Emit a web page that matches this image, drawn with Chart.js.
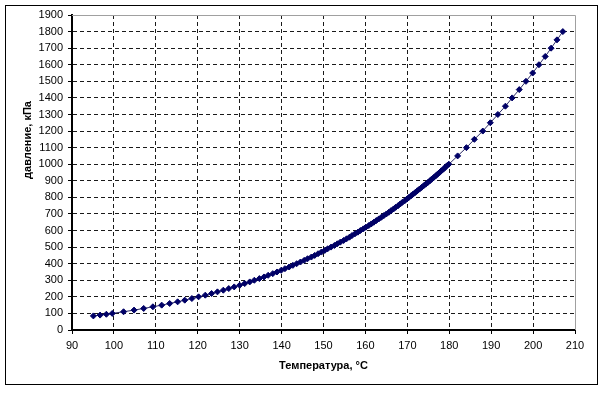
<!DOCTYPE html>
<html>
<head>
<meta charset="utf-8">
<script src="https://cdn.jsdelivr.net/npm/chart.js@4/dist/chart.umd.min.js"></script>
<style>
  html, body { margin: 0; padding: 0; background: #fff; }
  canvas { display: block; }
</style>
</head>
<body>
<canvas id="pressureChart" width="605" height="394"></canvas>
<script>
  // давление насыщения, кПа
  let pressure = [
    85, 90, 95, 100, 110, 120, 130, 140, 150, 160, 170, 180, 190,
    200, 210, 220, 230, 240, 250, 260, 270, 280, 290,
    300, 310, 320, 330, 340, 350, 360, 370, 380, 390,
    400, 410, 420, 430, 440, 450, 460, 470, 480, 490,
    500, 510, 520, 530, 540, 550, 560, 570, 580, 590,
    600, 610, 620, 630, 640, 650, 660, 670, 680, 690,
    700, 710, 720, 730, 740, 750, 760, 770, 780, 790,
    800, 810, 820, 830, 840, 850, 860, 870, 880, 890,
    900, 910, 920, 930, 940, 950, 960, 970, 980, 990,
    1000, 1050, 1100, 1150, 1200, 1250, 1300, 1350, 1400,
    1450, 1500, 1550, 1600, 1650, 1700, 1750, 1800
  ];

  // температура, °C
  let temperature = [
    95.1, 96.7, 98.2, 99.6, 102.3, 104.8, 107.1, 109.3, 111.4, 113.3, 115.2, 116.9, 118.6,
    120.2, 121.8, 123.3, 124.7, 126.1, 127.4, 128.7, 130.0, 131.2, 132.4,
    133.5, 134.7, 135.8, 136.8, 137.9, 138.9, 139.9, 140.8, 141.8, 142.7,
    143.6, 144.5, 145.4, 146.2, 147.1, 147.9, 148.7, 149.5, 150.3, 151.0,
    151.8, 152.6, 153.3, 154.0, 154.8, 155.5, 156.2, 156.8, 157.5, 158.2,
    158.8, 159.5, 160.1, 160.8, 161.4, 162.0, 162.6, 163.2, 163.8, 164.4,
    165.0, 165.6, 166.1, 166.7, 167.2, 167.8, 168.3, 168.8, 169.4, 169.9,
    170.4, 170.9, 171.4, 171.9, 172.4, 172.9, 173.4, 173.9, 174.4, 174.9,
    175.4, 175.8, 176.3, 176.8, 177.2, 177.7, 178.1, 178.6, 179.0, 179.4,
    179.9, 182.0, 184.1, 186.0, 188.0, 189.8, 191.6, 193.4, 195.0,
    196.7, 198.3, 199.9, 201.4, 202.9, 204.3, 205.7, 207.1
  ];

  let xTicks = { min: 90, max: 210, step: 10 };
  let yTicks = { min: 0, max: 1900, step: 100 };

  let xTitle = 'Температура, °C';
  let yTitle = 'давление, кПа';

  const FONT = "'Liberation Sans', Arial, sans-serif";

  // рамка, серая граница области построения и подписи осей
  const framePlugin = {
    id: 'framePlugin',
    beforeDraw(chart) {
      const c = chart.ctx;
      c.save();
      c.fillStyle = '#fff';
      c.fillRect(0, 0, chart.width, chart.height);
      c.restore();
    },
    beforeDatasetsDraw(chart) {
      const c = chart.ctx, a = chart.chartArea;
      c.save();
      c.strokeStyle = '#a0a0a0';
      c.lineWidth = 1;
      c.beginPath();
      c.moveTo(a.left, Math.round(a.top) + 0.5);
      c.lineTo(Math.round(a.right) + 0.5, Math.round(a.top) + 0.5);
      c.lineTo(Math.round(a.right) + 0.5, a.bottom);
      c.stroke();
      c.restore();
    },
    afterDraw(chart) {
      const c = chart.ctx, a = chart.chartArea;
      c.save();
      c.strokeStyle = '#000';
      c.lineWidth = 1;
      c.strokeRect(5.5, 5.5, 592, 379);

      c.fillStyle = '#000';
      c.font = 'bold 11px ' + FONT;
      c.textAlign = 'center';
      c.textBaseline = 'middle';
      c.fillText(xTitle, (a.left + a.right) / 2, 366);

      c.translate(28, 140);
      c.rotate(-Math.PI / 2);
      c.fillText(yTitle, 0, 0);
      c.restore();
    }
  };

  let ctx = document.getElementById('pressureChart').getContext('2d');

  let chart = new Chart(ctx, {
    type: 'scatter',
    data: {
      datasets: [{
        data: temperature.map((t, i) => ({ x: t, y: pressure[i] })),
        showLine: true,
        borderColor: '#2b2b66',
        borderWidth: 1,
        pointStyle: 'rectRot',
        pointRadius: 3,
        pointBorderWidth: 1,
        pointBackgroundColor: '#000066',
        pointBorderColor: '#000066'
      }]
    },
    options: {
      responsive: false,
      animation: false,
      layout: { padding: { left: 0, top: 15, right: 30, bottom: 0 } },
      plugins: { legend: { display: false }, tooltip: { enabled: false } },
      scales: {
        x: {
          type: 'linear',
          min: xTicks.min,
          max: xTicks.max,
          afterFit: s => { s.height = 64; },
          ticks: {
            stepSize: xTicks.step,
            color: '#000',
            padding: 5,
            font: { family: FONT, size: 11 },
            callback: v => String(v)
          },
          grid: {
            color: c => (c.tick && c.tick.value === xTicks.max) ? 'rgba(0,0,0,0)' : '#1a1a1a',
            tickColor: '#000',
            tickLength: 4,
            lineWidth: 1
          },
          border: { color: '#000', width: 2, dash: [4, 3] }
        },
        y: {
          min: yTicks.min,
          max: yTicks.max,
          afterFit: s => { s.width = 72; },
          ticks: {
            stepSize: yTicks.step,
            color: '#000',
            padding: 5,
            font: { family: FONT, size: 11 },
            callback: v => String(v)
          },
          grid: {
            color: c => (c.tick && c.tick.value === yTicks.max) ? 'rgba(0,0,0,0)' : '#1a1a1a',
            tickColor: '#000',
            tickLength: 4,
            lineWidth: 1
          },
          border: { color: '#000', width: 2, dash: [4, 3] }
        }
      }
    },
    plugins: [framePlugin]
  });
</script>
</body>
</html>
